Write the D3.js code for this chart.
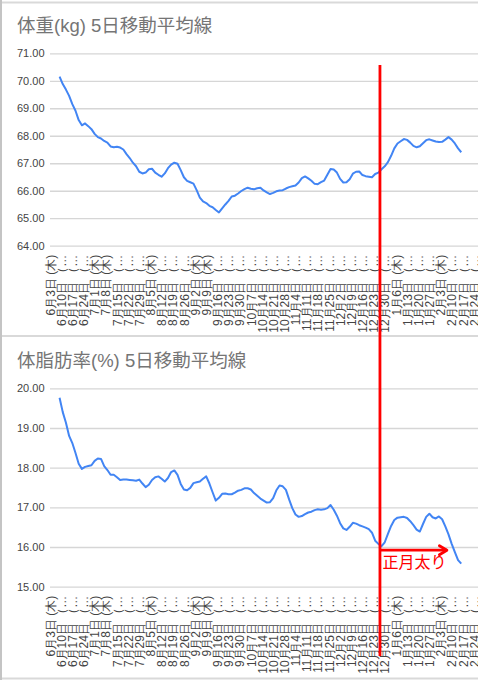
<!DOCTYPE html>
<html>
<head>
<meta charset="utf-8">
<script src="https://cdn.jsdelivr.net/npm/d3@7"></script>
<style>
  body { margin: 0; background: #fff; }
  svg { display: block; font-family: Arial, "Liberation Sans", "Noto Sans CJK JP", sans-serif; }
</style>
</head>
<body>
<script>
// 5-day moving averages, one reading every 2 days from 2021-06-09
var firstDay = new Date(2021, 5, 9);
var stepDays = 2;

var weight = [
  70.15, 69.88, 69.68, 69.45, 69.15, 68.91, 68.57, 68.38, 68.45, 68.35,
  68.24, 68.07, 67.95, 67.90, 67.81, 67.75, 67.61, 67.58, 67.60, 67.57,
  67.50, 67.33, 67.19, 67.02, 66.89, 66.69, 66.63, 66.66, 66.78, 66.80,
  66.66, 66.58, 66.51, 66.63, 66.82, 66.95, 67.02, 66.98, 66.75, 66.49,
  66.36, 66.31, 66.26, 66.02, 65.75, 65.61, 65.55, 65.45, 65.40, 65.30,
  65.21, 65.36, 65.50, 65.63, 65.79, 65.82, 65.90, 65.99, 66.06, 66.11,
  66.07, 66.05, 66.09, 66.11, 66.01, 65.94, 65.88, 65.92, 65.98, 66.01,
  66.02, 66.08, 66.13, 66.16, 66.19, 66.30, 66.46, 66.52, 66.45, 66.36,
  66.25, 66.24, 66.31, 66.37, 66.58, 66.79, 66.77, 66.66, 66.43, 66.30,
  66.31, 66.42, 66.62, 66.69, 66.70, 66.57, 66.53, 66.51, 66.49, 66.61,
  66.66, 66.78, 66.89, 67.04, 67.27, 67.54, 67.72, 67.80, 67.88, 67.85,
  67.75, 67.63, 67.58, 67.62, 67.73, 67.84, 67.87, 67.83, 67.79, 67.77,
  67.78, 67.86, 67.95, 67.86, 67.72, 67.54, 67.40
];

var bodyFat = [
  19.76, 19.40, 19.13, 18.80, 18.62, 18.37, 18.10, 17.97, 18.02, 18.04,
  18.06, 18.17, 18.23, 18.22, 18.04, 17.94, 17.82, 17.82, 17.76, 17.69,
  17.70, 17.70, 17.69, 17.68, 17.67, 17.70, 17.60, 17.51, 17.57, 17.69,
  17.76, 17.78, 17.72, 17.65, 17.74, 17.89, 17.93, 17.82, 17.59, 17.45,
  17.43, 17.49, 17.61, 17.63, 17.65, 17.72, 17.78, 17.60, 17.38, 17.17,
  17.24, 17.34, 17.35, 17.33, 17.33, 17.37, 17.42, 17.44, 17.48, 17.48,
  17.45, 17.36, 17.29, 17.22, 17.17, 17.12, 17.13, 17.23, 17.43, 17.55,
  17.53, 17.44, 17.20, 16.98, 16.82, 16.76, 16.78, 16.83, 16.87, 16.89,
  16.93, 16.95, 16.94, 16.95, 16.98, 17.06, 16.94, 16.79, 16.60, 16.47,
  16.43, 16.51, 16.61, 16.59, 16.55, 16.52, 16.49, 16.45, 16.36, 16.16,
  16.08, 16.02, 16.12, 16.33, 16.53, 16.68, 16.74, 16.75, 16.76, 16.73,
  16.65, 16.55, 16.44, 16.39, 16.58, 16.76, 16.84, 16.75, 16.72, 16.77,
  16.70, 16.52, 16.32, 16.08, 15.87, 15.67, 15.58
];

var weightTicks = [64, 65, 66, 67, 68, 69, 70, 71];
var fatTicks = [15, 16, 17, 18, 19, 20];

// weekly category labels (Thursdays), as truncated in the picture
var firstTick = new Date(2021, 5, 3);
var tickLabels = [
  "6月3日 (木)", "6月10日 （…", "6月17日 （…", "6月24日 （…",
  "7月1日 (木)", "7月8日 (木)", "7月15日 （…", "7月22日 （…", "7月29日 （…",
  "8月5日 (木)", "8月12日 （…", "8月19日 （…", "8月26日 （…",
  "9月2日 (木)", "9月9日 (木)", "9月16日 （…", "9月23日 （…", "9月30日 （…",
  "10月7日 （…", "10月14日 （…", "10月21日 （…", "10月28日 （…",
  "11月4日 （…", "11月11日 （…", "11月18日 （…", "11月25日 （…",
  "12月2日 （…", "12月9日 （…", "12月16日 （…", "12月23日 （…", "12月30日 （…",
  "1月6日 (木)", "1月13日 （…", "1月20日 （…", "1月27日 （…",
  "2月3日 (木)", "2月10日 （…", "2月17日 （…", "2月24日 （…"
];

// annotation
var markDate = new Date(2021, 11, 27);
var arrowEnd = new Date(2022, 1, 7);
var arrowValue = 15.92;
var noteText = "正月太り";

var W = 478, H = 680;
var plotLeft = 50;

var svg = d3.select("body").append("svg")
  .attr("width", W)
  .attr("height", H);

// sheet frame
svg.append("rect").attr("x", 0).attr("y", 0).attr("width", W).attr("height", H).attr("fill", "#fff");
svg.append("line").attr("x1", 0).attr("x2", W).attr("y1", 2.5).attr("y2", 2.5).attr("stroke", "#d9d9d9").attr("stroke-width", 2);
svg.append("line").attr("x1", 0).attr("x2", W).attr("y1", 336).attr("y2", 336).attr("stroke", "#d9d9d9").attr("stroke-width", 2);
svg.append("line").attr("x1", 0).attr("x2", W).attr("y1", 678.5).attr("y2", 678.5).attr("stroke", "#d9d9d9").attr("stroke-width", 2);
svg.append("line").attr("x1", 1).attr("x2", 1).attr("y1", 0).attr("y2", H).attr("stroke", "#c4c4c4").attr("stroke-width", 2);

var x = d3.scaleTime()
  .domain([firstTick, new Date(2022, 1, 24)])
  .range([plotLeft, 474]);

var tickDates = tickLabels.map((t, i) => d3.timeDay.offset(firstTick, 7 * i));

var panels = [
  { title: "体重(kg) 5日移動平均線", titleY: 32, values: weight, ticks: weightTicks, range: [245.7, 53.3] },
  { title: "体脂肪率(%) 5日移動平均線", titleY: 367, values: bodyFat, ticks: fatTicks, range: [586.7, 388.3] }
];

var scales = [];

panels.forEach(p => {
  var y = d3.scaleLinear()
    .domain(d3.extent(p.ticks))
    .range(p.range);
  scales.push(y);

  var g = svg.append("g");

  g.append("text")
    .attr("x", 17)
    .attr("y", p.titleY)
    .attr("font-size", "18.5px")
    .attr("fill", "#757575")
    .text(p.title);

  // y axis + gridlines
  var yAxis = d3.axisLeft(y)
    .tickValues(p.ticks)
    .tickFormat(d3.format(".2f"))
    .tickSize(-(W - plotLeft))
    .tickPadding(5.5);

  var ya = g.append("g")
    .attr("transform", `translate(${plotLeft},0)`)
    .call(yAxis);
  ya.select(".domain").remove();
  ya.selectAll(".tick line").attr("stroke", "#d6d6d6").attr("stroke-width", 1.3);
  ya.selectAll(".tick text").attr("fill", "#444").attr("font-size", "11px")
    .attr("font-family", "Arial, 'Liberation Sans', sans-serif");

  // x axis, rotated category labels
  var xAxis = d3.axisBottom(x)
    .tickValues(tickDates)
    .tickSize(0)
    .tickFormat((d, i) => tickLabels[i]);

  var xa = g.append("g")
    .attr("transform", `translate(0,${p.range[0]})`)
    .call(xAxis);
  xa.select(".domain").remove();
  xa.selectAll(".tick text")
    .attr("fill", "#444")
    .attr("font-size", "12px")
    .attr("x", -9)
    .attr("y", 0)
    .attr("dy", "0.35em")
    .attr("transform", "rotate(-90)")
    .style("text-anchor", "end");

  var pts = p.values.map((v, i) => ({ date: d3.timeDay.offset(firstDay, stepDays * i), v: v }));

  var line = d3.line()
    .x(d => x(d.date))
    .y(d => y(d.v));

  g.append("path")
    .datum(pts)
    .attr("fill", "none")
    .attr("stroke", "#4285f4")
    .attr("stroke-width", 2)
    .attr("stroke-linejoin", "round")
    .attr("d", line);
});

// red marker across both charts
var mx = x(markDate);
svg.append("line")
  .attr("x1", mx).attr("x2", mx)
  .attr("y1", 65).attr("y2", 656)
  .attr("stroke", "#ff0000")
  .attr("stroke-width", 2.8);

var ay = scales[1](arrowValue);
var ax2 = x(arrowEnd);
svg.append("line")
  .attr("x1", mx).attr("x2", ax2)
  .attr("y1", ay).attr("y2", ay)
  .attr("stroke", "#ff0000")
  .attr("stroke-width", 2.8);
svg.append("path")
  .attr("d", `M${ax2 - 7.5},${ay - 4.5} L${ax2},${ay} L${ax2 - 7.5},${ay + 4.5}`)
  .attr("fill", "none")
  .attr("stroke", "#ff0000")
  .attr("stroke-width", 2.8)
  .attr("stroke-linecap", "round")
  .attr("stroke-linejoin", "round");

svg.append("text")
  .attr("x", mx + 2.5)
  .attr("y", ay + 18)
  .attr("font-size", "16px")
  .attr("fill", "#ff0000")
  .attr("font-family", "'Noto Sans CJK JP', sans-serif")
  .text(noteText);
</script>
</body>
</html>
